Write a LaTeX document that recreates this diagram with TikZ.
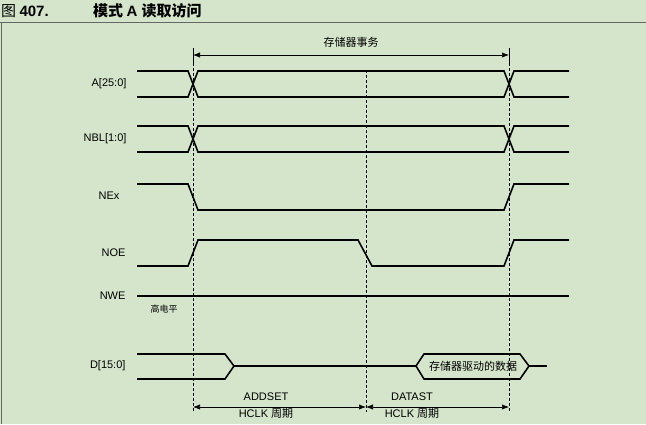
\documentclass[tikz,border=0pt]{standalone}
\usepackage{fontspec}
\setmainfont{Liberation Sans}
\newfontfamily\cjk{Noto Sans CJK SC}
\usetikzlibrary{arrows.meta}
\definecolor{bg}{HTML}{D5E5CB}
\begin{document}
\begin{tikzpicture}[x=1pt,y=-1pt,
  sig/.style={line width=1.6pt},
  vdash/.style={densely dashed,line width=0.6pt},
  dim/.style={line width=0.6pt,{Latex[length=7pt]}-{Latex[length=7pt]}},
  lab/.style={anchor=east,font=\fontsize{11}{12}\selectfont},
  cl/.style={font=\fontsize{11}{12}\selectfont}]
\fill[bg] (0,0) rectangle (646,424);
\useasboundingbox (0,0) rectangle (646,424);
\draw[line width=1pt,black!60] (0,22) -- (646,22);
\draw[line width=0.6pt,black!60] (1,22) -- (1,424);
\node[anchor=west,inner sep=1pt] (t1) at (0,11) {\fontsize{15}{16}\selectfont\cjk 图\ \fontspec{Liberation Sans}\bfseries 407.};
\node[anchor=west,inner sep=1pt] (t2) at (92,11) {\fontsize{15}{16}\selectfont\cjk\bfseries 模式 \fontspec{Liberation Sans}\bfseries A \cjk 读取访问};
% dashed verticals
\coordinate (d1t) at (193,48); \coordinate (d1b) at (193,412);
\coordinate (d2t) at (366,70); \coordinate (d2b) at (366,412);
\coordinate (d3t) at (509,48); \coordinate (d3b) at (509,412);
\draw[vdash] (d1t) -- (d1b);
\draw[vdash] (d2t) -- (d2b);
\draw[vdash] (d3t) -- (d3b);
\draw[line width=0.7pt] (193,48) -- (193,66);
\draw[line width=0.7pt] (509,48) -- (509,66);
\coordinate (ta) at (193,55); \coordinate (tb) at (509,55);
\draw[dim] (ta) -- (tb);
\node[cl] (tl) at (351,42) {\cjk 存储器事务};
% A
\node[lab] (la) at (130,84) {A[25:0]};
\draw[sig] (137,71) -- (188,71) -- (198,97) -- (504,97) -- (514,71) -- (569,71);
\draw[sig] (137,97) -- (188,97) -- (198,71) -- (504,71) -- (514,97) -- (569,97);
% NBL
\node[lab] (lb) at (130,139) {NBL[1:0]};
\draw[sig] (137,126) -- (188,126) -- (198,152) -- (504,152) -- (514,126) -- (569,126);
\draw[sig] (137,152) -- (188,152) -- (198,126) -- (504,126) -- (514,152) -- (569,152);
% NEx
\node[lab] (lc) at (123,196) {NEx};
\draw[sig] (137,184) -- (188,184) -- (198,210) -- (504,210) -- (514,184) -- (569,184);
% NOE
\node[lab] (ld) at (129,253) {NOE};
\draw[sig] (137,266) -- (188,266) -- (198,240) -- (358,240) -- (372,266) -- (504,266) -- (514,240) -- (569,240);
% NWE
\node[lab] (le) at (129,296) {NWE};
\draw[sig] (137,296) -- (569,296);
\node[font=\fontsize{9}{10}\selectfont] (lh) at (164,309) {\cjk 高电平};
% D
\node[lab] (lf) at (129,366) {D[15:0]};
\draw[sig] (137,354) -- (225,354) -- (234,366) -- (225,379) -- (137,379);
\draw[sig] (234,366) -- (416,366);
\draw[sig] (416,366) -- (424,354) -- (520,354) -- (529,366) -- (520,379) -- (424,379) -- cycle;
\draw[sig] (529,366) -- (547,366);
\node[cl] (dl) at (473,366) {\cjk 存储器驱动的数据};
% bottom
\coordinate (b1) at (193,407); \coordinate (b2) at (366,407); \coordinate (b3) at (509,407);
\draw[dim] (b1) -- (b2);
\draw[dim] (b2) -- (b3);
\node[cl] (a1) at (266,397) {ADDSET};
\node[cl] (a2) at (266,413) {HCLK \cjk 周期};
\node[cl] (a3) at (412,397) {DATAST};
\node[cl] (a4) at (412,413) {HCLK \cjk 周期};
\end{tikzpicture}
\end{document}
